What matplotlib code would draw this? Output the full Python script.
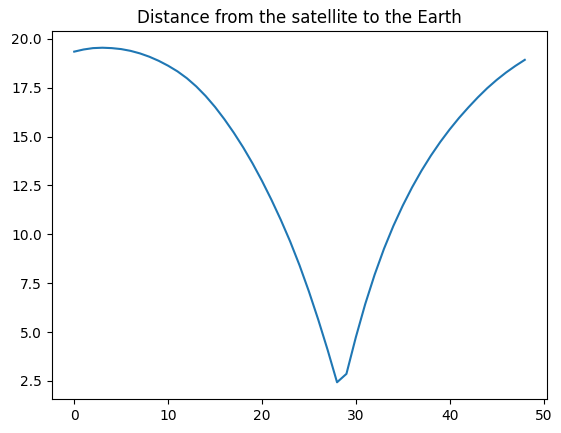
import matplotlib
matplotlib.use("Agg")
import matplotlib.pyplot as plt

hours = list(range(49))
distance = [19.35, 19.46, 19.53, 19.55, 19.53, 19.48, 19.39, 19.26, 19.09, 18.88,
            18.63, 18.34, 17.99, 17.57, 17.08, 16.52, 15.89, 15.20, 14.45, 13.63,
            12.74, 11.78, 10.75, 9.64, 8.42, 7.08, 5.63, 4.08, 2.43, 2.86,
            4.73, 6.43, 7.93, 9.26, 10.43, 11.47, 12.41, 13.26, 14.03, 14.73,
            15.37, 15.96, 16.50, 17.01, 17.48, 17.90, 18.28, 18.62, 18.93]

fig = plt.figure(figsize=(5.61, 4.33), dpi=100)
ax = fig.add_axes([51.7/561, 1-399/433, (547.3-51.7)/561, (399-31)/433])
ax.plot(hours, distance)
ax.set_title("Distance from the satellite to the Earth")
fig.savefig("out.png", dpi=100)
